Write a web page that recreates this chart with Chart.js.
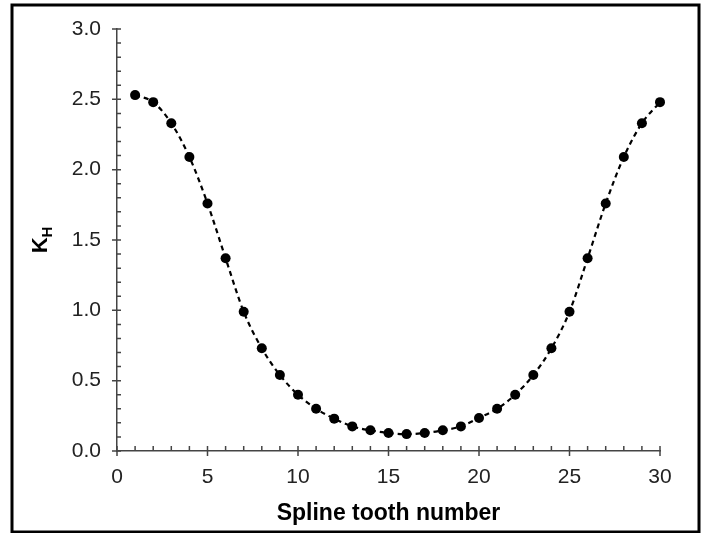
<!DOCTYPE html>
<html>
<head>
<meta charset="utf-8">
<script src="https://cdn.jsdelivr.net/npm/chart.js@4.4.1/dist/chart.umd.min.js"></script>
<style>
  html, body { margin: 0; padding: 0; background: #fff; }
  #wrap { width: 704px; height: 533px; }
</style>
</head>
<body>
<div id="wrap"><canvas id="myChart" width="704" height="533"></canvas></div>
<script>
// spline tooth number vs K_H
const toothNumbers = [1, 2, 3, 4, 5, 6, 7, 8, 9, 10, 11, 12, 13, 14, 15,
                      16, 17, 18, 19, 20, 21, 22, 23, 24, 25, 26, 27, 28, 29, 30];
const khValues = [2.53, 2.48, 2.33, 2.09, 1.76, 1.37, 0.99, 0.73, 0.54, 0.40,
                  0.30, 0.23, 0.175, 0.147, 0.128, 0.12, 0.128, 0.147, 0.175, 0.235,
                  0.30, 0.40, 0.54, 0.73, 0.99, 1.37, 1.76, 2.09, 2.33, 2.48];
const xTicks = [0, 5, 10, 15, 20, 25, 30];
const yTicks = [0.0, 0.5, 1.0, 1.5, 2.0, 2.5, 3.0];

const axisColor = '#444';
const fontFamily = '"Liberation Sans", Arial, sans-serif';
const ctx = document.getElementById('myChart');

// axis tick marks: major ones cross the axis, minor ones sit inside
const tickMarks = {
    id: 'tickMarks',
    afterDraw(chart) {
        const c = chart.ctx;
        const xs = chart.scales.x, ys = chart.scales.y;
        const ax = xs.getPixelForValue(0), ay = ys.getPixelForValue(0);
        c.save();
        c.strokeStyle = axisColor;
        c.lineWidth = 1.5;
        c.beginPath();
        for (let v = 0; v <= 30; v++) {
            const px = xs.getPixelForValue(v);
            const major = xTicks.includes(v);
            c.moveTo(px, ay + (major ? 5 : 0));
            c.lineTo(px, ay - 5);
        }
        for (let i = 0; i <= 30; i++) {
            const py = ys.getPixelForValue(i / 10);
            const major = i % 5 === 0;
            c.moveTo(ax - (major ? 5 : 0), py);
            c.lineTo(ax + 4, py);
        }
        c.stroke();
        // outer frame
        c.strokeStyle = '#000';
        c.lineWidth = 3;
        c.strokeRect(12, 5, 687, 527);
        c.restore();
    }
};

// y title with subscript
const yTitle = {
    id: 'yTitle',
    afterDraw(chart) {
        const c = chart.ctx;
        const ys = chart.scales.y;
        const cy = (ys.top + ys.bottom) / 2;
        c.save();
        c.fillStyle = '#000';
        c.translate(47, cy);
        c.rotate(-Math.PI / 2);
        c.textBaseline = 'alphabetic';
        c.font = 'bold 22px ' + fontFamily;
        const wK = c.measureText('K').width;
        c.font = 'bold 15px ' + fontFamily;
        const wH = c.measureText('H').width;
        const start = -(wK + wH) / 2;
        c.font = 'bold 22px ' + fontFamily;
        c.fillText('K', start, 0);
        c.font = 'bold 15px ' + fontFamily;
        c.fillText('H', start + wK, 5);
        c.restore();
    }
};

const chart = new Chart(ctx, {
    type: 'line',
    data: {
        datasets: [{
            data: toothNumbers.map((n, i) => ({ x: n, y: khValues[i] })),
            borderColor: '#000',
            borderWidth: 2.2,
            borderDash: [5, 4],
            cubicInterpolationMode: 'monotone',
            pointRadius: 5,
            pointBackgroundColor: '#000',
            pointBorderColor: '#000',
            pointBorderWidth: 0,
            clip: false
        }]
    },
    options: {
        responsive: false,
        animation: false,
        layout: { padding: { left: 0, right: 44, top: 29, bottom: 0 } },
        plugins: {
            legend: { display: false },
            tooltip: { enabled: false },
            title: { display: false }
        },
        scales: {
            x: {
                type: 'linear',
                min: 0, max: 30,
                afterFit: (s) => { s.height = 82; },
                afterBuildTicks: (s) => { s.ticks = xTicks.map(v => ({ value: v })); },
                grid: { display: false, drawTicks: false },
                border: { display: true, color: axisColor, width: 1.5 },
                ticks: {
                    padding: 14,
                    color: '#222',
                    font: { family: fontFamily, size: 21 },
                    maxRotation: 0
                },
                title: {
                    display: true,
                    text: 'Spline tooth number',
                    color: '#000',
                    padding: { top: 4, bottom: 6 },
                    font: { family: fontFamily, size: 23, weight: 'bold' }
                }
            },
            y: {
                min: 0, max: 3,
                afterFit: (s) => { s.width = 117; },
                afterBuildTicks: (s) => { s.ticks = yTicks.map(v => ({ value: v })); },
                grid: { display: false, drawTicks: false },
                border: { display: true, color: axisColor, width: 1.5 },
                ticks: {
                    padding: 16,
                    color: '#222',
                    font: { family: fontFamily, size: 21 },
                    callback: (v) => Number(v).toFixed(1)
                }
            }
        }
    },
    plugins: [tickMarks, yTitle]
});
</script>
</body>
</html>
